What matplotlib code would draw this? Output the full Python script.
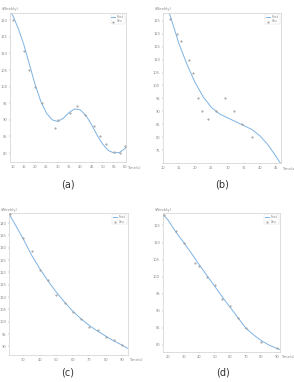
# four fitted-curve panels, (a)-(d)

import numpy as np
import matplotlib.pyplot as plt

# panel (a)
a_pts_x = [10.3, 15, 17.3, 20, 23, 28.8, 30, 35.3, 38.5, 42, 46, 48.5, 51.5, 55, 57.5, 60]
a_pts_y = [120.2, 110.6, 105, 100, 95, 87.5, 90, 92, 94.2, 91.5, 88, 85, 82.8, 80.3, 80, 82]
a_fit_x = [8.8, 10, 12.5, 15, 17.5, 20, 22.5, 25, 27.5, 30, 32.5, 35, 37.5, 40, 42.5, 45, 47.5, 50, 52.5, 55, 57.5, 60, 60.3]
a_fit_y = [123, 121.5, 117.5, 112.5, 106.5, 100.5, 95.5, 92, 90, 89.5, 90.5, 92.2, 93.3, 93, 91.3, 88.5, 85.3, 82.6, 80.7, 80, 80.2, 81.5, 81.8]

# panel (b)
b_pts_x = [12.3, 14.4, 15.6, 18.2, 19.2, 20.7, 22.2, 23.8, 26.3, 29.3, 32, 34.3, 37.4]
b_pts_y = [125.5, 120, 117, 110, 105, 95, 90, 87, 90, 95, 90, 85, 80]
b_fit_x = [12, 15, 17.5, 20, 22.5, 25, 27.5, 30, 32.5, 35, 37.5, 40, 42.5, 45, 46.3]
b_fit_y = [128, 116, 108, 101, 95.5, 91.5, 89, 87.5, 86, 84.5, 83, 80.5, 77, 72.5, 70]

# panel (c)
c_pts_x = [22, 30, 35, 40, 45, 50, 55, 60, 65, 70, 75, 80, 85, 90]
c_pts_y = [143.5, 134, 128.5, 121, 117, 111, 107.5, 104, 101, 98, 96.5, 94, 92.5, 90.5]
c_fit_x = [21.4, 25, 30, 35, 40, 45, 50, 55, 60, 65, 70, 75, 80, 85, 90, 93.4]
c_fit_y = [143.6, 139.5, 133.5, 127, 121.5, 116.5, 112, 108, 104.3, 101.2, 98.5, 96.2, 94.2, 92.2, 90.5, 89.2]

# panel (d)
d_pts_x = [17, 25, 30, 37, 40, 45, 50, 55, 60, 65, 70, 80, 90]
d_pts_y = [118, 113.5, 110, 104, 103, 100, 97.5, 93.5, 91.5, 88, 85, 81, 79]
d_fit_x = [16.5, 20, 25, 30, 35, 40, 45, 50, 55, 60, 65, 70, 75, 80, 85, 90, 92]
d_fit_y = [118.3, 116.5, 113, 110, 106.8, 103.5, 100.3, 97.2, 94, 91, 88, 85, 83, 81.3, 80, 79, 78.7]

legend_labels = ["Data", "Fitted"]
x_name = "Time(s)"
y_name = "(Weekly)"

panels = [
    ("(a)", a_pts_x, a_pts_y, a_fit_x, a_fit_y, (8.8, 60.3), (77.3, 122.2), np.arange(10, 61, 5), np.arange(80, 121, 5)),
    ("(b)", b_pts_x, b_pts_y, b_fit_x, b_fit_y, (10, 46.5), (70, 128), np.arange(10, 46, 5), np.arange(75, 126, 5)),
    ("(c)", c_pts_x, c_pts_y, c_fit_x, c_fit_y, (21.4, 93.4), (86.6, 144), np.arange(30, 91, 10), np.arange(90, 141, 5)),
    ("(d)", d_pts_x, d_pts_y, d_fit_x, d_fit_y, (16.5, 92.1), (78, 118.6), np.arange(20, 91, 10), np.arange(80, 116, 5)),
]

# axes boxes in figure fraction [left, bottom, width, height]
boxes = [
    [0.034, 0.576, 0.395, 0.390],
    [0.554, 0.573, 0.402, 0.393],
    [0.031, 0.071, 0.404, 0.371],
    [0.554, 0.079, 0.398, 0.363],
]
label_pos = [(0.23, 0.503), (0.757, 0.503), (0.23, 0.013), (0.757, 0.013)]

fig = plt.figure(figsize=(2.94, 3.82), dpi=100)
grey = "#d0d0d0"
tick_col = "#8a8a8a"

for (name, px, py, fx, fy, xl, yl, xt, yt), box, lp in zip(panels, boxes, label_pos):
    ax = fig.add_axes(box)
    ax.plot(fx, fy, color="#7eb3e3", lw=0.7, label=legend_labels[1])
    ax.scatter(px, py, s=0.3, color="#a0a0a0", zorder=3, label=legend_labels[0])
    ax.set_xlim(*xl)
    ax.set_ylim(*yl)
    ax.set_xticks(xt)
    ax.set_yticks(yt)
    ax.tick_params(labelsize=2.6, colors=tick_col, length=1.0, width=0.3, pad=1.0)
    for s in ax.spines.values():
        s.set_color(grey)
        s.set_linewidth(0.5)
    ax.text(0.0, 1.01, y_name, transform=ax.transAxes, fontsize=2.8, color=tick_col,
            ha="center", va="bottom")
    ax.text(1.008, -0.025, x_name, transform=ax.transAxes, fontsize=2.6, color=tick_col,
            ha="left", va="top")
    leg = ax.legend(loc="upper right", fontsize=1.8, frameon=True, handlelength=1.5,
                    markerscale=1, borderpad=0.3, labelspacing=0.2)
    leg.get_frame().set_linewidth(0.3)
    leg.get_frame().set_edgecolor(grey)
    for t in leg.get_texts():
        t.set_color(tick_col)
    fig.text(lp[0], lp[1], name, fontsize=7, color="#333333", ha="center", va="bottom")

fig.savefig("out.png", dpi=100)
